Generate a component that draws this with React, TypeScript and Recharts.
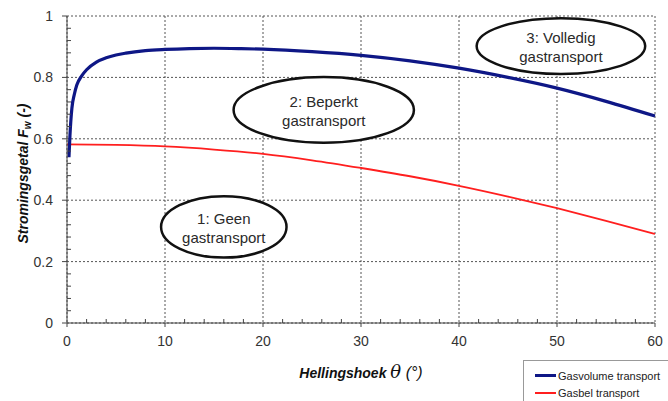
import { LineChart, Line, XAxis, YAxis, CartesianGrid, ReferenceArea, Legend, Label } from "recharts"

// Gasvolume transport (blauw)
const volumeAngles = [0.2, 0.3, 0.5, 0.75, 1, 1.5, 2, 3, 4, 5, 6, 8, 10, 12.5, 15, 17.5, 20, 25, 30, 35, 40, 45, 50, 55, 60]
const volumeFlow = [0.54, 0.61, 0.7, 0.745, 0.775, 0.805, 0.825, 0.85, 0.864, 0.873, 0.879, 0.887, 0.891, 0.894, 0.895, 0.894, 0.892, 0.884, 0.872, 0.854, 0.83, 0.8, 0.765, 0.722, 0.674]

// Gasbel transport (rood)
const bubbleAngles = [0, 5, 10, 15, 20, 25, 30, 35, 40, 45, 50, 55, 60]
const bubbleFlow = [0.582, 0.58, 0.575, 0.565, 0.551, 0.53, 0.505, 0.478, 0.447, 0.412, 0.374, 0.333, 0.29]

const xTicks = [0, 10, 20, 30, 40, 50, 60]
const xMinorTicks = [0, 2, 4, 6, 8, 10, 12, 14, 16, 18, 20, 22, 24, 26, 28, 30, 32, 34, 36, 38, 40, 42, 44, 46, 48, 50, 52, 54, 56, 58, 60]
const yTicks = [0, 0.2, 0.4, 0.6, 0.8, 1]
const yMinorTicks = [0, 0.04, 0.08, 0.12, 0.16, 0.2, 0.24, 0.28, 0.32, 0.36, 0.4, 0.44, 0.48, 0.52, 0.56, 0.6, 0.64, 0.68, 0.72, 0.76, 0.8, 0.84, 0.88, 0.92, 0.96, 1]

// stromingsregimes (ellipsen), in as-coordinaten
const regimeLines = [
  ["1: Geen", "gastransport"],
  ["2: Beperkt", "gastransport"],
  ["3: Volledig", "gastransport"],
]
const regimeAngle = [16, 26.2, 50.4]
const regimeFlow = [0.313, 0.694, 0.902]
const regimeHalfAngle = [6.4, 9.2, 8.6]
const regimeHalfFlow = [0.1, 0.107, 0.091]

const volumeData = volumeAngles.map((a, i) => ({ angle: a, flow: volumeFlow[i] }))
const bubbleData = bubbleAngles.map((a, i) => ({ angle: a, flow: bubbleFlow[i] }))

const FONT = "'Liberation Sans', Arial, sans-serif"
const BLUE = "#0e1786"
const RED = "#ff1f1f"
const AXIS = "#444"

const regimeShape = (lines: string[]) => (props: any) => {
  const { x, y, width, height } = props
  const cx = x + width / 2
  const cy = y + height / 2
  return (
    <g>
      <ellipse cx={cx} cy={cy} rx={width / 2} ry={height / 2} fill="#fff" stroke="#111" strokeWidth={2.5} />
      <text x={cx} y={cy - 3} textAnchor="middle" fontFamily={FONT} fontSize={15} fill="#2a2a2a">
        {lines[0]}
      </text>
      <text x={cx} y={cy + 16} textAnchor="middle" fontFamily={FONT} fontSize={15} fill="#2a2a2a">
        {lines[1]}
      </text>
    </g>
  )
}

// tick marks: major outward with label, minor inward
const YTick = (props: any) => {
  const { x, y, payload } = props
  const ax = x + 14
  if (yTicks.includes(payload.value)) {
    return (
      <g>
        <line x1={ax - 5} x2={ax} y1={y} y2={y} stroke={AXIS} />
        <text x={x} y={y} dy="0.36em" textAnchor="end" fontFamily={FONT} fontSize={14} fill="#333">
          {payload.value}
        </text>
      </g>
    )
  }
  return <line x1={ax} x2={ax + 4} y1={y} y2={y} stroke={AXIS} />
}

const XTick = (props: any) => {
  const { x, y, payload } = props
  const ay = y - 13
  if (xTicks.includes(payload.value)) {
    return (
      <g>
        <line x1={x} x2={x} y1={ay} y2={ay + 4} stroke={AXIS} />
        <text x={x} y={y} dy="0.71em" textAnchor="middle" fontFamily={FONT} fontSize={14} fill="#333">
          {payload.value}
        </text>
      </g>
    )
  }
  return <line x1={x} x2={x} y1={ay} y2={ay - 4} stroke={AXIS} />
}

const renderLegend = () => (
  <div
    style={{
      border: "1px solid #999",
      background: "#fff",
      padding: "6px 0 4px 11px",
      fontFamily: FONT,
      fontSize: 11,
      color: "#222",
      boxSizing: "border-box",
      width: 150,
      height: 46,
    }}
  >
    {[
      { name: "Gasvolume transport", color: BLUE, w: 3 },
      { name: "Gasbel transport", color: RED, w: 2 },
    ].map((it) => (
      <div key={it.name} style={{ display: "flex", alignItems: "center", height: 17 }}>
        <span style={{ display: "inline-block", width: 21, height: it.w, background: it.color, marginRight: 2 }} />
        {it.name}
      </div>
    ))}
  </div>
)

const yLabel = (props: any) => {
  const { viewBox } = props
  const x = viewBox.x + 24
  const y = viewBox.y + viewBox.height / 2 + 4
  return (
    <text
      x={x}
      y={y}
      transform={`rotate(-90, ${x}, ${y})`}
      textAnchor="middle"
      dominantBaseline="middle"
      fontFamily={FONT}
      fontSize={14}
      fontWeight="bold"
      fontStyle="italic"
      fill="#111"
    >
      Stromingsgetal F<tspan fontSize={10} dy={4}>w</tspan>
      <tspan dy={-4}> (-)</tspan>
    </text>
  )
}

const xLabel = (props: any) => {
  const { viewBox } = props
  const x = viewBox.x + viewBox.width / 2
  const y = viewBox.y + 55
  return (
    <text x={x} y={y} textAnchor="middle" fontFamily={FONT} fontSize={14} fontWeight="bold" fontStyle="italic" fill="#111">
      Hellingshoek{" "}
      <tspan fontFamily="'DejaVu Serif', 'Liberation Serif', serif" fontWeight="normal" fontSize={18}>
        θ
      </tspan>
      <tspan fontWeight="normal" fontSize={16}> (°)</tspan>
    </text>
  )
}

export default function App() {
  return (
    <div style={{ position: "absolute", left: 0, top: 0, background: "#fff" }}>
      <LineChart width={668} height={401} margin={{ top: 16, right: 13, bottom: 18, left: 0 }}>
        <CartesianGrid stroke="#555" strokeDasharray="2 2" horizontalValues={yTicks} verticalValues={xTicks} />
        <XAxis
          dataKey="angle"
          type="number"
          domain={[0, 60]}
          ticks={xMinorTicks}
          interval={0}
          height={60}
          tickSize={4}
          tickMargin={9}
          tickLine={false}
          stroke={AXIS}
          tick={<XTick />}
        >
          <Label content={xLabel} />
        </XAxis>
        <YAxis
          type="number"
          domain={[0, 1]}
          ticks={yMinorTicks}
          interval={0}
          width={67}
          tickSize={5}
          tickMargin={9}
          tickLine={false}
          stroke={AXIS}
          tick={<YTick />}
        >
          <Label content={yLabel} />
        </YAxis>
        <Line
          data={bubbleData}
          dataKey="flow"
          name="Gasbel transport"
          type="monotone"
          stroke={RED}
          strokeWidth={1.8}
          dot={false}
          isAnimationActive={false}
        />
        <Line
          data={volumeData}
          dataKey="flow"
          name="Gasvolume transport"
          type="monotone"
          stroke={BLUE}
          strokeWidth={3.2}
          dot={false}
          isAnimationActive={false}
        />
        {regimeLines.map((lines, i) => (
          <ReferenceArea
            key={i}
            x1={regimeAngle[i] - regimeHalfAngle[i]}
            x2={regimeAngle[i] + regimeHalfAngle[i]}
            y1={regimeFlow[i] - regimeHalfFlow[i]}
            y2={regimeFlow[i] + regimeHalfFlow[i]}
            shape={regimeShape(lines)}
            ifOverflow="visible"
          />
        ))}
        <Legend
          layout="vertical"
          align="center"
          verticalAlign="middle"
          content={renderLegend}
          wrapperStyle={{ left: 523, top: 360, width: 150 }}
        />
      </LineChart>
    </div>
  )
}
